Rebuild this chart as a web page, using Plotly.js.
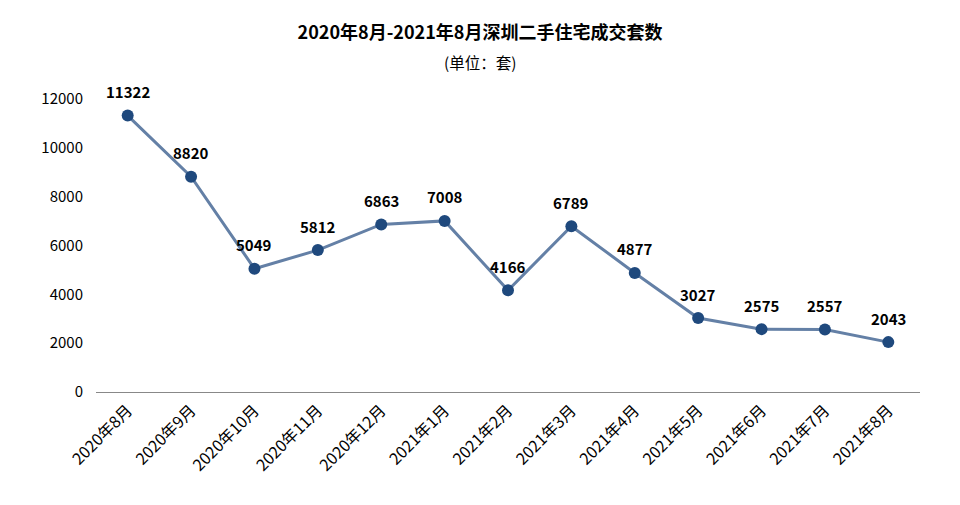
<!DOCTYPE html>
<html><head><meta charset="utf-8">
<script src="https://cdn.plot.ly/plotly-3.0.1.min.js"></script>
<style>html,body{margin:0;padding:0;background:#fff}#c{width:960px;height:505px}</style>
</head><body><div id="c"></div>
<script>
const categories = ["2020年8月","2020年9月","2020年10月","2020年11月","2020年12月","2021年1月","2021年2月","2021年3月","2021年4月","2021年5月","2021年6月","2021年7月","2021年8月"];
const values = [11322, 8820, 5049, 5812, 6863, 7008, 4166, 6789, 4877, 3027, 2575, 2557, 2043];
const yTicks = [0, 2000, 4000, 6000, 8000, 10000, 12000];

const font = '"Noto Sans CJK SC", "Noto Sans", sans-serif';
const labels = categories.map((c, i) => ({
  x: c, y: values[i], xref: 'x', yref: 'y', text: '<b>' + values[i] + '</b>',
  showarrow: false, yshift: 24, xanchor: 'center', yanchor: 'middle',
  font: {family: font, size: 15, color: '#000'}
}));
labels.push({text: '(单位：套)', xref: 'paper', yref: 'paper', x: 0.466, y: 1, yshift: 37, xanchor: 'center', yanchor: 'middle', showarrow: false, font: {family: font, size: 15.5, color: '#000'}});

Plotly.newPlot('c', [{
  x: categories, y: values, type: 'scatter', mode: 'lines+markers',
  line: {color: '#6480a6', width: 3},
  marker: {color: '#1f497d', size: 12},
  cliponaxis: false, hoverinfo: 'none'
}], {
  width: 960, height: 505,
  margin: {l: 96, r: 40, t: 99, b: 113},
  paper_bgcolor: '#fff', plot_bgcolor: '#fff',
  showlegend: false,
  font: {family: font, size: 14, color: '#000'},
  title: {text: '<b>2020年8月-2021年8月深圳二手住宅成交套数</b>', x: 0.5, xanchor: 'center', y: 0.935, yanchor: 'middle', font: {family: font, size: 18, color: '#000'}},
  annotations: labels,
  xaxis: {type: 'category', tickangle: -45, showgrid: false, showline: false, zeroline: false, ticks: '', ticklabelstandoff: 5, tickfont: {family: font, size: 16}, range: [-0.5, 12.5]},
  yaxis: {range: [0, 12000], tickvals: yTicks, ticktext: yTicks.map(String), showgrid: false, zeroline: true, zerolinecolor: '#888', zerolinewidth: 1, showline: false, ticks: '', ticklabelstandoff: 12, tickfont: {family: font, size: 15}}
}, {staticPlot: true});
</script></body></html>
